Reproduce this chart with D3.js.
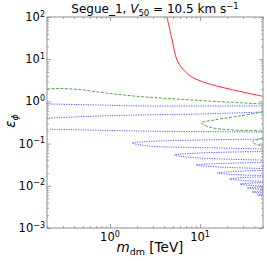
<!DOCTYPE html>
<html><head><meta charset="utf-8">
<script src="https://cdn.jsdelivr.net/npm/d3@7"></script>
<style>body{margin:0;background:#fff}svg{display:block}text{font-family:"DejaVu Sans",sans-serif;fill:#000}</style>
</head><body><svg id="c" width="267" height="261"></svg>
<script>
// ---- data ----
const xDomain = [0.2, 50];
const yDomain = [1e-3, 1e2];
const xMajor = [1, 10];
const xMajorExp = ["0", "1"];
const yMajor = [1e-3, 1e-2, 1e-1, 1, 10, 100];
const yMajorExp = ["−3", "−2", "−1", "0", "1", "2"];
const xMinor = [0.2,0.3,0.4,0.5,0.6,0.7,0.8,0.9,2,3,4,5,6,7,8,9,20,30,40,50];
const yMinor = [];
[1e-3,1e-2,1e-1,1,10].forEach(d => { for (let k = 2; k <= 9; k++) yMinor.push(d * k); });

// red solid curve [m_dm, eps]
const redCurve = [[4.3,100],[4.9,28.5],[5.55,9.6],[6.6,5.5],[8.15,3.78],[11.7,2.73],[21,1.97],[50,1.32]];
// green dashed curves
const greenMain = [[0.2,1.97],[0.271,2.02],[0.453,1.91],[0.9,1.58],[2.1,1.31],[4.5,1.17],[12.6,1.02],[50,0.87]];
const greenLobe1 = [[50,0.56],[27.1,0.45],[14.3,0.362],[10.3,0.31],[13.2,0.241],[23.9,0.21],[50,0.20]];
const greenLobe2 = [[50,0.136],[43,0.125],[37.8,0.109],[43,0.095],[50,0.088]];
// blue dotted curves
const blueLine1 = [[0.2,0.87],[0.755,0.822],[2.1,0.778],[9.75,0.778],[50,0.778]];
const blueLine2 = [[0.2,0.40],[0.755,0.451],[2.1,0.477],[9.75,0.502],[50,0.561]];
const blueLine3 = [[0.2,0.22],[2.1,0.199],[50,0.188]];
const blueLobe1 = [[50,0.1285],[9.75,0.1216],[2.71,0.1122],[1.76,0.1033],[2.71,0.0877],[9.75,0.0809],[50,0.0745]];
const blueLobe2 = [[50,0.0650],[9.75,0.0598],[5.14,0.0537],[9.75,0.0456],[50,0.0408]];
const blueLobe3 = [[50,0.0356],[16.3,0.0337],[9.03,0.0311],[16.3,0.0279],[50,0.0257]];
const blueLobe4 = [[50,0.0231],[23.9,0.0218],[15.45,0.0201],[23.9,0.0185],[50,0.0175]];
const blueLobe5 = [[50,0.0162],[30.8,0.0157],[21.0,0.0145],[30.8,0.0134],[50,0.0127]];
const blueLobe6 = [[50,0.0120],[36.9,0.0116],[27.8,0.0110],[36.9,0.0102],[50,0.00989]];
const blueLobe7 = [[50,0.00937],[33.3,0.00888],[50,0.00817]];
const blueLobe8 = [[50,0.00753],[37.8,0.00713],[50,0.00675]];
const blueLobe9 = [[50,0.00622],[43.0,0.00605],[50,0.00573]];

// ---- layout ----
const L = 47, R = 263, T = 17, B = 228;
const svg = d3.select("#c");
const x = d3.scaleLog().domain(xDomain).range([L, R]);
const y = d3.scaleLog().domain(yDomain).range([B, T]);

const plot = svg.append("g");
svg.append("clipPath").attr("id","clip").append("rect").attr("x",L).attr("y",T).attr("width",R-L).attr("height",B-T);
const curves = plot.append("g").attr("clip-path","url(#clip)");
const line = d3.line().x(d => x(d[0])).y(d => y(d[1])).curve(d3.curveCatmullRom.alpha(0.5));

function draw(data, color, dash, w) {
  curves.append("path").attr("d", line(data)).attr("fill","none")
    .attr("stroke", color).attr("stroke-width", w).attr("stroke-dasharray", dash);
}
[blueLine1,blueLine2,blueLine3,blueLobe1,blueLobe2,blueLobe3,blueLobe4,blueLobe5,blueLobe6,blueLobe7,blueLobe8,blueLobe9]
  .forEach(d => draw(d, "#6464ff", "1.3,1.1", 1));
[greenMain, greenLobe1, greenLobe2].forEach(d => draw(d, "#38a038", "3,1.5", 0.9));
draw(redCurve, "#ff2a2a", null, 1);

// axes (ticks inward, all sides)
const spine = "#8c8c8c";
function ax(gen, tx, ty, vals, size) {
  const g = svg.append("g").attr("transform", `translate(${tx},${ty})`)
    .call(gen.tickValues(vals).tickSize(size).tickSizeOuter(0).tickFormat(""));
  g.select(".domain").remove();
  g.selectAll("line").attr("stroke", spine).attr("stroke-width", 0.8);
}
ax(d3.axisBottom(x), 0, B, xMajor, -4); ax(d3.axisBottom(x), 0, B, xMinor, -2);
ax(d3.axisTop(x), 0, T, xMajor, -4); ax(d3.axisTop(x), 0, T, xMinor, -2);
ax(d3.axisLeft(y), L, 0, yMajor, -4); ax(d3.axisLeft(y), L, 0, yMinor, -2);
ax(d3.axisRight(y), R, 0, yMajor, -4); ax(d3.axisRight(y), R, 0, yMinor, -2);
svg.append("rect").attr("x",L).attr("y",T).attr("width",R-L).attr("height",B-T)
  .attr("fill","none").attr("stroke",spine).attr("stroke-width",1);

// tick labels
xMajor.forEach((v,i) => {
  const t = svg.append("text").attr("x", x(v)).attr("y", 241).attr("text-anchor","middle").attr("font-size",11.5);
  t.append("tspan").text("10");
  t.append("tspan").attr("dy",-4.5).attr("font-size",8).text(xMajorExp[i]);
});
yMajor.forEach((v,i) => {
  const t = svg.append("text").attr("x", 45).attr("y", y(v) + 4).attr("text-anchor","end").attr("font-size",11.5);
  t.append("tspan").text("10");
  t.append("tspan").attr("dy",-4.5).attr("font-size",8).text(yMajorExp[i]);
});

// title
const tt = svg.append("text").attr("x", 155).attr("y", 13).attr("text-anchor","middle").attr("font-size",12);
tt.append("tspan").text("Segue_1, ");
tt.append("tspan").attr("font-style","italic").text("V");
tt.append("tspan").attr("dy",2.5).attr("font-size",8.5).text("50");
tt.append("tspan").attr("dy",-2.5).text(" = 10.5 km s");
tt.append("tspan").attr("dy",-4.5).attr("font-size",8.5).text("−1");

// x label
const xl = svg.append("text").attr("x", 150).attr("y", 252).attr("text-anchor","middle").attr("font-size",13.5);
xl.append("tspan").attr("font-style","italic").text("m");
xl.append("tspan").attr("dy",3).attr("font-size",9.5).text("dm");
xl.append("tspan").attr("dy",-3).text(" [TeV]");

// y label
const yl = svg.append("text").attr("transform","translate(15,121) rotate(-90)").attr("text-anchor","middle").attr("font-size",13.5);
yl.append("tspan").attr("font-style","italic").text("ε");
yl.append("tspan").attr("dy",3).attr("font-size",9.5).attr("font-style","italic").text("ϕ");
</script></body></html>
